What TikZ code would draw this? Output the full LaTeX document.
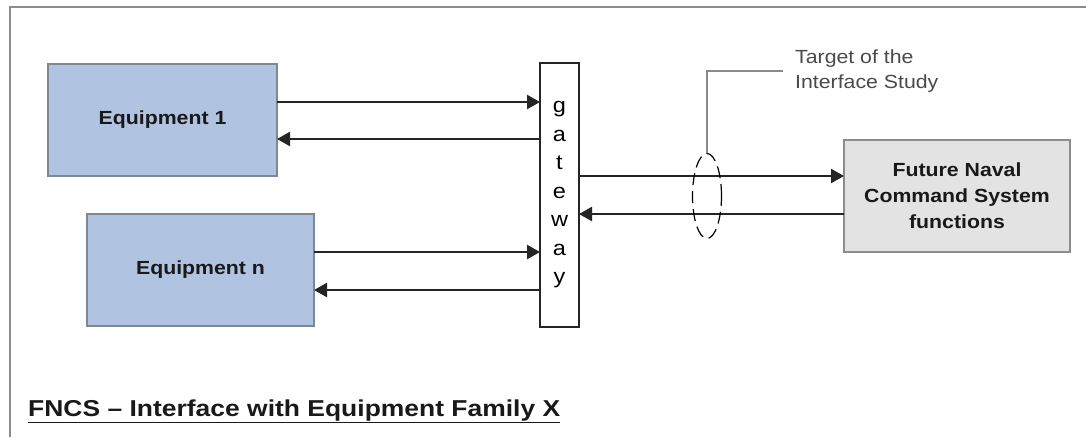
\documentclass[tikz,border=0pt]{standalone}
\usepackage{fontspec}
\usepackage{graphicx}
\setmainfont{Liberation Sans}
\usetikzlibrary{arrows.meta,calc,shapes.geometric}
\definecolor{eqfill}{HTML}{B0C4E2}
\definecolor{eqdraw}{HTML}{7E8894}
\definecolor{grfill}{HTML}{E3E3E3}
\definecolor{frame}{HTML}{8C8C8C}
\definecolor{linec}{HTML}{252525}
\definecolor{leadc}{HTML}{8A8A8A}
\definecolor{notec}{HTML}{4A4A4A}
\newcommand\wx[1]{\scalebox{1.12}[1]{#1}}
\tikzset{
  eqbox/.style={draw=eqdraw,line width=1.8pt,fill=eqfill,minimum width=229pt,minimum height=112pt,outer sep=0pt,inner sep=0pt,font=\fontsize{19}{22}\selectfont\bfseries,text=black!90},
  fnbox/.style={draw=frame,line width=1.8pt,fill=grfill,minimum width=226pt,minimum height=112pt,outer sep=0pt,inner sep=0pt,align=center,font=\fontsize{19}{26}\selectfont\bfseries,text=black!90},
  gwbox/.style={draw=linec,line width=1.6pt,fill=white,minimum width=39pt,minimum height=264pt,outer sep=0pt,inner sep=0pt,align=center,font=\fontsize{21}{28.5}\selectfont},
  arr/.style={draw=linec,line width=2.4pt,-{Triangle[length=13pt,width=14pt]}},
}
\begin{document}
\begin{tikzpicture}[x=1pt,y=-1pt]
\useasboundingbox (0,0) rectangle (1086,437);
\fill[white] (0,0) rectangle (1086,437);
% frame
\draw[frame,line width=2pt] (10,437) -- (10,7) -- (1086,7);
% nodes
\node[eqbox] (eq1) at (162.5,120) {\wx{Equipment 1}};
\node[eqbox,minimum width=227pt] (eqn) at (200.5,270) {\wx{Equipment n}};
\node[gwbox] (gw) at (559.5,195) {\wx{g}\\\wx{a}\\\wx{t}\\\wx{e}\\\wx{w}\\\wx{a}\\\wx{y}};
\node[fnbox] (fn) at (957,196) {\wx{Future Naval}\\\wx{Command System}\\\wx{functions}};
% row coordinates
\coordinate (r1) at (0,102);
\coordinate (r2) at (0,139);
\coordinate (r3) at (0,252);
\coordinate (r4) at (0,290);
\coordinate (r5) at (0,176);
\coordinate (r6) at (0,214);
\draw[arr] (eq1.east |- r1) -- (gw.west |- r1);
\draw[arr] (gw.west |- r2) -- (eq1.east |- r2);
\draw[arr] (eqn.east |- r3) -- (gw.west |- r3);
\draw[arr] (gw.west |- r4) -- (eqn.east |- r4);
\draw[arr] (gw.east |- r5) -- (fn.west |- r5);
\draw[arr] (fn.west |- r6) -- (gw.east |- r6);
% target ellipse and leader
\node[draw=black,dash pattern=on 12pt off 6pt,line width=1.2pt,ellipse,minimum width=29pt,minimum height=85pt,inner sep=0pt] (el) at (707,196) {};
\coordinate (lk) at (707,71);
\node[anchor=west,align=left,inner sep=0pt,text=notec,font=\fontsize{19}{25}\selectfont] (note) at (795,71) {\wx{Target of the}\\\wx{Interface Study}};
\coordinate (le) at ($(note.west |- lk)+(-12,0)$);
\draw[leadc,line width=1.3pt] (el.north) -- (lk) -- (le);
% title
\node[anchor=base west,inner sep=0pt,font=\fontsize{23}{26}\selectfont\bfseries,text=black!90] (title) at (28,416) {\scalebox{1.15}[1]{\underline{FNCS -- Interface with Equipment Family X}}};
\end{tikzpicture}
\end{document}
